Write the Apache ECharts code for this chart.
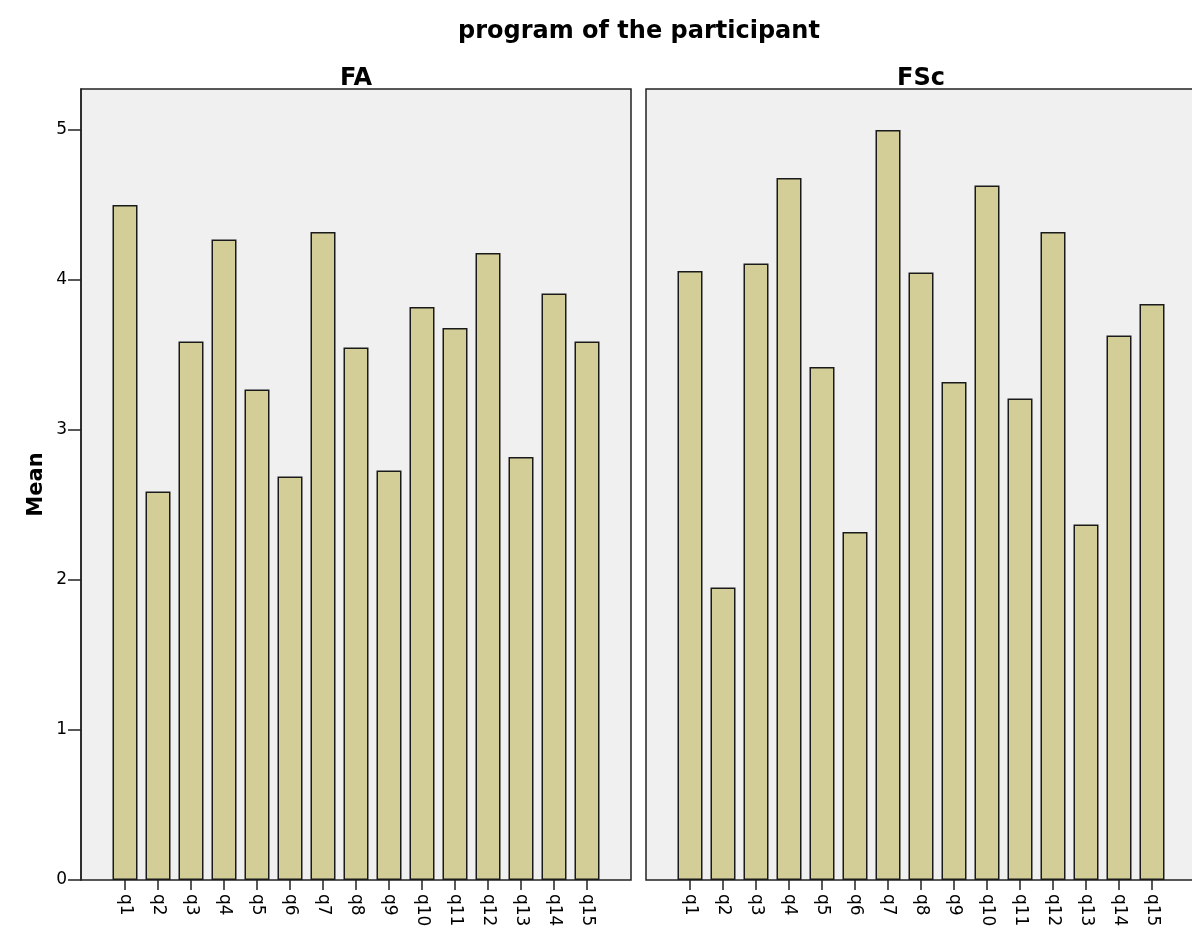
<!DOCTYPE html>
<html><head><meta charset="utf-8">
<script src="https://cdn.jsdelivr.net/npm/echarts@6/dist/echarts.min.js"></script>
<style>html,body{margin:0;padding:0;background:#fff}#c{width:1192px;height:926px}</style>
</head><body><div id="c"></div>
<script>
const categories = ['q1','q2','q3','q4','q5','q6','q7','q8','q9','q10','q11','q12','q13','q14','q15'];
const faMeans  = [4.50,2.59,3.59,4.27,3.27,2.69,4.32,3.55,2.73,3.82,3.68,4.18,2.82,3.91,3.59];
const fscMeans = [4.06,1.95,4.11,4.68,3.42,2.32,5.00,4.05,3.32,4.63,3.21,4.32,2.37,3.63,3.84];
const yTicks = [0, 1, 2, 3, 4, 5];
const panelNames = ['FA','FSc'];
const chartTitle = 'program of the participant';
const yTitle = 'Mean';

const FONT = "'DejaVu Sans', Verdana, sans-serif";
const Y_MIN = 0, Y_MAX = 5.273;
const TOP = 89, HEIGHT = 791, PW = 550, PAD = 27.5;
const panelLefts = [81, 646];
const seriesData = [faMeans, fscMeans];

const chart = echarts.init(document.getElementById('c'), null, {renderer:'canvas'});
const grids = [], xAxes = [], yAxes = [], series = [];
panelLefts.forEach((L, p) => {
  const fi = grids.length;
  grids.push({left: L, top: TOP, width: PW, height: HEIGHT, show: true, outerBoundsMode: 'none', containLabel: false,
    backgroundColor: '#F0F0F0', borderColor: '#222', borderWidth: 1.5, z: 0});
  grids.push({left: L + PAD, top: TOP, width: PW - 2*PAD, height: HEIGHT, show: false, outerBoundsMode: 'none', containLabel: false});
  // frame axes
  xAxes.push({gridIndex: fi, type: 'value', position: 'top', min: 0, max: 1,
    axisLine: {show: false}, axisTick: {show: false}, axisLabel: {show: false}, splitLine: {show: false},
    name: panelNames[p], nameLocation: 'middle', nameGap: -2,
    nameTextStyle: {fontFamily: FONT, fontWeight: 'bold', fontSize: 24, color: '#000'}});
  yAxes.push({gridIndex: fi, type: 'value', min: Y_MIN, max: Y_MAX,
    show: p === 0,
    axisLine: {show: true, lineStyle: {color: '#222', width: 1.5}},
    axisTick: {show: true, length: 13, customValues: yTicks, lineStyle: {color: '#222', width: 1.5}},
    axisLabel: {show: true, margin: 14, customValues: yTicks, fontFamily: FONT, fontSize: 17, color: '#000'},
    splitLine: {show: false},
    name: p === 0 ? yTitle : '', nameLocation: 'middle', nameGap: 34, nameRotate: 90,
    nameTextStyle: {fontFamily: FONT, fontWeight: 'bold', fontSize: 21, color: '#000'}});
  // inner axes
  const bi = grids.length - 1;
  xAxes.push({gridIndex: bi, type: 'category', data: categories, boundaryGap: true,
    axisLine: {show: false},
    axisTick: {show: true, alignWithLabel: true, length: 10, lineStyle: {color: '#222', width: 1.5}},
    axisLabel: {rotate: -90, margin: 14, interval: 0, fontFamily: FONT, fontSize: 17, color: '#000'},
    splitLine: {show: false}});
  yAxes.push({gridIndex: bi, type: 'value', min: Y_MIN, max: Y_MAX, show: false, splitLine: {show: false}});
  series.push({type: 'bar', xAxisIndex: xAxes.length - 1, yAxisIndex: yAxes.length - 1,
    data: seriesData[p], barWidth: 25, z: 3,
    itemStyle: {color: '#D3CE97', borderColor: '#1a1a1a', borderWidth: 1.5},
    emphasis: {disabled: true}});
});

chart.setOption({
  animation: false,
  backgroundColor: '#fff',
  title: {text: chartTitle, left: 453, top: 15,
    textStyle: {fontFamily: FONT, fontWeight: 'bold', fontSize: 24, color: '#000'}},
  grid: grids, xAxis: xAxes, yAxis: yAxes, series: series
});
</script></body></html>
